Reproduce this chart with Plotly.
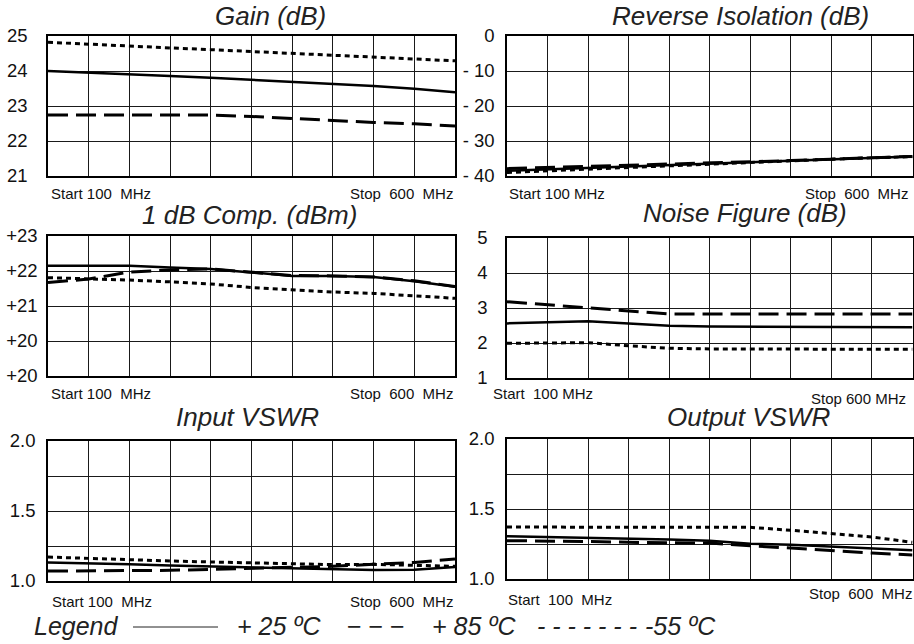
import plotly.graph_objects as go

W, H = 914, 644
FONT = "Liberation Sans"

freq_mhz = [100, 150, 200, 250, 300, 350, 400, 450, 500, 550, 600]

gain_25 = [24.00, 23.96, 23.91, 23.86, 23.81, 23.75, 23.70, 23.65, 23.57, 23.49, 23.39]
gain_85 = [22.74, 22.74, 22.74, 22.74, 22.74, 22.70, 22.64, 22.59, 22.53, 22.49, 22.43]
gain_m55 = [24.82, 24.76, 24.70, 24.66, 24.61, 24.56, 24.50, 24.46, 24.40, 24.34, 24.29]

iso_25 = [-38.5, -38.1, -37.7, -37.3, -36.9, -36.5, -36.1, -35.7, -35.2, -34.8, -34.4]
iso_85 = [-37.9, -37.6, -37.3, -37.0, -36.7, -36.4, -36.0, -35.6, -35.2, -34.8, -34.4]
iso_m55 = [-39.0, -38.5, -38.0, -37.5, -37.0, -36.5, -36.1, -35.7, -35.2, -34.8, -34.5]

comp_25 = [22.15, 22.15, 22.15, 22.10, 22.06, 21.96, 21.86, 21.86, 21.83, 21.71, 21.55]
comp_85 = [21.67, 21.77, 21.97, 22.03, 22.06, 21.97, 21.87, 21.86, 21.83, 21.72, 21.56]
comp_m55 = [21.81, 21.78, 21.74, 21.69, 21.63, 21.53, 21.46, 21.40, 21.36, 21.30, 21.22]

nf_25 = [2.56, 2.58, 2.62, 2.56, 2.49, 2.47, 2.47, 2.47, 2.46, 2.46, 2.45]
nf_85 = [3.18, 3.09, 2.99, 2.91, 2.83, 2.83, 2.83, 2.83, 2.83, 2.83, 2.83]
nf_m55 = [1.99, 1.99, 2.01, 1.92, 1.85, 1.83, 1.83, 1.83, 1.82, 1.82, 1.82]

ivswr_25 = [1.133, 1.129, 1.120, 1.110, 1.103, 1.095, 1.088, 1.081, 1.079, 1.081, 1.100]
ivswr_85 = [1.071, 1.071, 1.073, 1.076, 1.083, 1.090, 1.097, 1.105, 1.119, 1.133, 1.157]
ivswr_m55 = [1.171, 1.160, 1.150, 1.143, 1.136, 1.129, 1.122, 1.117, 1.119, 1.114, 1.105]

ovswr_25 = [1.305, 1.300, 1.295, 1.290, 1.282, 1.274, 1.252, 1.245, 1.233, 1.219, 1.205]
ovswr_85 = [1.274, 1.272, 1.268, 1.262, 1.260, 1.257, 1.238, 1.219, 1.205, 1.186, 1.171]
ovswr_m55 = [1.371, 1.371, 1.369, 1.369, 1.369, 1.369, 1.369, 1.348, 1.324, 1.300, 1.262]

titles = ["Gain (dB)", "Reverse Isolation (dB)", "1 dB Comp. (dBm)",
          "Noise Figure (dB)", "Input VSWR", "Output VSWR"]

gain_ticks = [21, 22, 23, 24, 25]
gain_text = ["21", "22", "23", "24", "25"]
iso_ticks = [-40, -30, -20, -10, 0]
iso_text = ["- 40", "- 30", "- 20", "- 10", "0"]
comp_ticks = [19, 20, 21, 22, 23]
comp_text = ["+20", "+20", "+21", "+22", "+23"]
nf_ticks = [1, 2, 3, 4, 5]
nf_text = ["1", "2", "3", "4", "5"]
vswr_ticks = [1.0, 1.25, 1.5, 1.75, 2.0]
vswr_text = ["1.0", "", "1.5", "", "2.0"]

NB = "&nbsp;"
panels = [
    dict(data=(gain_25, gain_85, gain_m55), rng=[21, 25], tv=gain_ticks, tt=gain_text,
         x=(48, 455), y=(36, 176), so=15, title_xy=(270, 16),
         start=(49, 193, f"Start 100{NB}{NB}MHz"), stop=(455, 193, f"Stop{NB}{NB}600{NB}{NB}MHz", "right")),
    dict(data=(iso_25, iso_85, iso_m55), rng=[-40, 0], tv=iso_ticks, tt=iso_text,
         x=(507, 912.5), y=(36, 176), so=7, title_xy=(740, 16),
         start=(507, 193, "Start 100 MHz"), stop=(803, 193, f"Stop{NB}{NB}600{NB}{NB}MHz", "left")),
    dict(data=(comp_25, comp_85, comp_m55), rng=[19, 23], tv=comp_ticks, tt=comp_text,
         x=(48, 455), y=(236, 376), so=5, title_xy=(249, 215),
         start=(49, 393, f"Start 100{NB}{NB}MHz"), stop=(455, 393, f"Stop{NB}{NB}600{NB}{NB}MHz", "right")),
    dict(data=(nf_25, nf_85, nf_m55), rng=[1, 5], tv=nf_ticks, tt=nf_text,
         x=(507, 912.5), y=(238, 378), so=14, title_xy=(745, 213),
         start=(491, 393, f"Start{NB}{NB}100 MHz"), stop=(908, 398, "Stop 600 MHz", "right")),
    dict(data=(ivswr_25, ivswr_85, ivswr_m55), rng=[1.0, 2.0], tv=vswr_ticks, tt=vswr_text,
         x=(48, 455), y=(441, 581), so=7, title_xy=(247, 417),
         start=(50, 601, f"Start 100{NB}{NB}MHz"), stop=(455, 601, f"Stop{NB}{NB}600{NB}{NB}MHz", "right")),
    dict(data=(ovswr_25, ovswr_85, ovswr_m55), rng=[1.0, 2.0], tv=vswr_ticks, tt=vswr_text,
         x=(507, 912.5), y=(439, 579), so=7, title_xy=(748, 417),
         start=(506, 599, f"Start{NB}{NB}100{NB}{NB}MHz"), stop=(807, 593, f"Stop{NB}{NB}600{NB}{NB}MHz", "left")),
]

def px(x):
    return x / W

def py(y):
    return 1 - y / H

styles = [
    dict(color="black", width=2.5, dash="solid"),
    dict(color="black", width=3, dash="20px,8px"),
    dict(color="black", width=3, dash="5px,4px"),
]
names = ["+ 25 ºC", "+ 85 ºC", "-55 ºC"]

fig = go.Figure()
layout = dict(width=W, height=H, margin=dict(l=0, r=0, t=0, b=0, autoexpand=False),
              paper_bgcolor="white", plot_bgcolor="white", showlegend=False,
              font=dict(family=FONT, color="#111"))
annotations = []

for i, p in enumerate(panels, start=1):
    xa = "x" if i == 1 else f"x{i}"
    ya = "y" if i == 1 else f"y{i}"
    for s, st, nm in zip(p["data"], styles, names):
        fig.add_trace(go.Scatter(x=freq_mhz, y=s, mode="lines", line=st, name=nm,
                                 xaxis=xa, yaxis=ya, hoverinfo="skip"))
    sfx = "" if i == 1 else str(i)
    layout["xaxis" + sfx] = dict(
        domain=[px(p["x"][0]), px(p["x"][1])], anchor=ya, range=[100, 600],
        tickvals=freq_mhz, showticklabels=False, showgrid=True, gridcolor="#1a1a1a",
        gridwidth=1, showline=True, mirror=True, linecolor="black", linewidth=1.5,
        zeroline=False, ticks="", fixedrange=True, automargin=False)
    layout["yaxis" + sfx] = dict(
        domain=[py(p["y"][1]), py(p["y"][0])], anchor=xa, range=p["rng"],
        tickvals=p["tv"], ticktext=p["tt"], showgrid=True, gridcolor="#1a1a1a",
        gridwidth=1, showline=True, mirror=True, linecolor="black", linewidth=1.5,
        zeroline=False, ticks="", ticklabelstandoff=p["so"], automargin=False,
        tickfont=dict(family=FONT, size=18.5, color="#111"), fixedrange=True)
    tx, ty = p["title_xy"]
    annotations.append(dict(text=f"<i>{titles[i-1]}</i>", x=px(tx), y=py(ty), xref="paper",
                            yref="paper", xanchor="center", yanchor="middle", showarrow=False,
                            font=dict(family=FONT, size=26, color="#222")))
    sx, sy, st_ = p["start"]
    annotations.append(dict(text=st_, x=px(sx), y=py(sy), xref="paper", yref="paper",
                            xanchor="left", yanchor="middle", showarrow=False,
                            font=dict(family=FONT, size=15, color="#111")))
    ex, ey, et, anc = p["stop"]
    annotations.append(dict(text=et, x=px(ex), y=py(ey), xref="paper", yref="paper",
                            xanchor=anc, yanchor="middle", showarrow=False,
                            font=dict(family=FONT, size=15, color="#111")))

leg_items = [
    ("<i>Legend</i>", 32),
    ("<i>+ 25 ºC</i>", 235),
    ("− − −", 345),
    ("<i>+ 85 ºC</i>", 430),
    ("<i>- - - - - - -</i>", 535),
    ("<i>-55 ºC</i>", 643),
]
for txt, x0 in leg_items:
    annotations.append(dict(text=txt, x=px(x0), y=py(626), xref="paper", yref="paper",
                            xanchor="left", yanchor="middle", showarrow=False,
                            font=dict(family=FONT, size=25, color="#222")))
layout["annotations"] = annotations
layout["shapes"] = [dict(type="line", xref="paper", yref="paper", x0=px(133), x1=px(218),
                         y0=py(627), y1=py(627), line=dict(color="#222", width=1))]

fig.update_layout(**layout)
fig.write_html("out.html", config={"responsive": False, "displayModeBar": False},
               post_script="document.body.style.margin='0';document.body.style.padding='0';"
                           "document.body.style.overflow='hidden';")
